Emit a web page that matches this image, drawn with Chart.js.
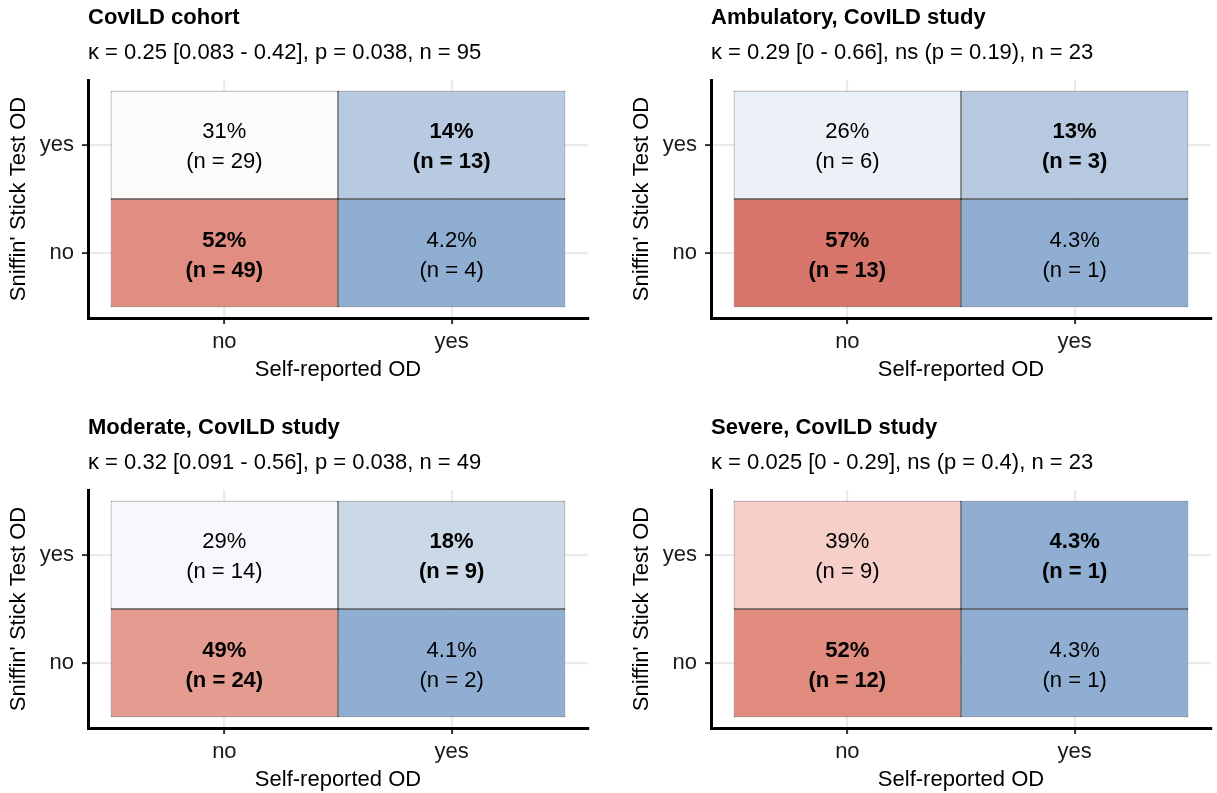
<!DOCTYPE html>
<html><head><meta charset="utf-8">
<script src="https://cdn.jsdelivr.net/npm/chart.js@4.4.1/dist/chart.umd.min.js"></script>
<style>
html,body{margin:0;padding:0;background:#fff;overflow:hidden;width:1217px;height:793px}
canvas{position:absolute}
</style></head><body>
<canvas id="c0" style="left:0;top:0" width="594" height="383"></canvas>
<canvas id="c1" style="left:623px;top:0" width="594" height="383"></canvas>
<canvas id="c2" style="left:0;top:410px" width="594" height="383"></canvas>
<canvas id="c3" style="left:623px;top:410px" width="594" height="383"></canvas>
<script>
// ---- data ----
const panelTitles = ['CovILD cohort', 'Ambulatory, CovILD study', 'Moderate, CovILD study', 'Severe, CovILD study'];
const panelSubtitles = [
  'κ = 0.25 [0.083 - 0.42], p = 0.038, n = 95',
  'κ = 0.29 [0 - 0.66], ns (p = 0.19), n = 23',
  'κ = 0.32 [0.091 - 0.56], p = 0.038, n = 49',
  'κ = 0.025 [0 - 0.29], ns (p = 0.4), n = 23'
];
const selfReportedOD = ['no', 'yes'];   // x categories
const sniffinOD = ['no', 'yes'];        // y categories
// cell order: (x no, y no), (x yes, y no), (x no, y yes), (x yes, y yes)
const cellX = [0, 1, 0, 1];
const cellY = [0, 0, 1, 1];
const cohortPct = [52, 4.2, 31, 14];
const cohortN = [49, 4, 29, 13];
const ambulatoryPct = [57, 4.3, 26, 13];
const ambulatoryN = [13, 1, 6, 3];
const moderatePct = [49, 4.1, 29, 18];
const moderateN = [24, 2, 14, 9];
const severePct = [52, 4.3, 39, 4.3];
const severeN = [12, 1, 9, 1];

// ---- styles ----
const cohortColors = ['#e28d81', '#90aed2', '#fcfbfa', '#b8cae1'];
const ambulatoryColors = ['#d8756a', '#90aed2', '#ecf0f7', '#b7c9e0'];
const moderateColors = ['#e59c90', '#90aed2', '#f7f8fb', '#cad8e8'];
const severeColors = ['#e08b7e', '#90aed2', '#f5cfc8', '#90aed2'];

const FONT = '"Liberation Sans", Arial, sans-serif';
const FS = 22;

const panels = [
  {pct: cohortPct, n: cohortN, colors: cohortColors},
  {pct: ambulatoryPct, n: ambulatoryN, colors: ambulatoryColors},
  {pct: moderatePct, n: moderateN, colors: moderateColors},
  {pct: severePct, n: severeN, colors: severeColors}
];

function fmtPct(v) { return (v >= 10 ? v.toFixed(0) : v.toFixed(1)) + '%'; }

function makeTextPlugin(p) {
  return {
    id: 'tileText',
    afterDatasetsDraw(chart) {
      const ctx = chart.ctx;
      const meta = chart.getDatasetMeta(0);
      meta.data.forEach((el, i) => {
        const cx = el.x;
        const cy = (el.y + el.base) / 2;
        const bold = cellX[i] === cellY[i];
        ctx.save();
        ctx.fillStyle = '#000';
        ctx.textAlign = 'center';
        ctx.textBaseline = 'middle';
        ctx.font = (bold ? 'bold ' : '') + FS + 'px ' + FONT;
        ctx.fillText(fmtPct(p.pct[i]), cx, cy - 12.5);
        ctx.fillText('(n = ' + p.n[i] + ')', cx, cy + 17.5);
        ctx.restore();
      });
    }
  };
}

function axisCfg(labels, title, isX) {
  return {
    type: 'linear',
    min: 0.4, max: 2.6,
    offset: false,
    afterBuildTicks(scale) { scale.ticks = labels.map((_, i) => ({value: i + 1})); },
    afterFit(scale) { if (isX) scale.height = 65; else scale.width = 88; },
    grid: {offset: false, color: '#ebebeb', lineWidth: 2.2, drawTicks: true, tickLength: 6, tickColor: '#333333', tickWidth: 2},
    border: {display: true, color: '#000', width: 3},
    ticks: {
      autoSkip: false,
      maxRotation: 0,
      padding: isX ? 5 : 8,
      color: '#1a1a1a',
      font: {family: FONT, size: FS},
      callback: (v) => labels[Math.round(v) - 1]
    },
    title: {
      display: true, text: title, color: '#000',
      font: {family: FONT, size: FS},
      padding: isX ? {top: 4, bottom: 0} : {top: 6, bottom: 4}
    }
  };
}

panels.forEach((p, k) => {
  const data = p.pct.map((v, i) => ({x: cellX[i] + 1, y: [cellY[i] + 0.5, cellY[i] + 1.5]}));
  new Chart(document.getElementById('c' + k), {
    type: 'bar',
    data: {
      datasets: [{
        data: data,
        backgroundColor: p.colors,
        borderColor: '#262626',
        borderWidth: 0.7,
        borderSkipped: false,
        inflateAmount: 0,
        barPercentage: 1,
        categoryPercentage: 1
      }]
    },
    options: {
      responsive: false,
      animation: false,
      devicePixelRatio: 1,
      layout: {padding: {left: 0, right: 6, top: 0, bottom: 0}},
      scales: {
        x: axisCfg(selfReportedOD, 'Self-reported OD', true),
        y: axisCfg(sniffinOD, "Sniffin' Stick Test OD", false)
      },
      plugins: {
        legend: {display: false},
        tooltip: {enabled: false},
        title: {
          display: true, text: panelTitles[k], align: 'start', fullSize: false,
          color: '#000', font: {family: FONT, size: FS, weight: 'bold'},
          padding: {top: 4.3, bottom: 0}
        },
        subtitle: {
          display: true, text: panelSubtitles[k], align: 'start', fullSize: false,
          color: '#000', font: {family: FONT, size: FS},
          padding: {top: 9.1, bottom: 13.8}
        }
      }
    },
    plugins: [makeTextPlugin(p)]
  });
});
</script>
</body></html>
